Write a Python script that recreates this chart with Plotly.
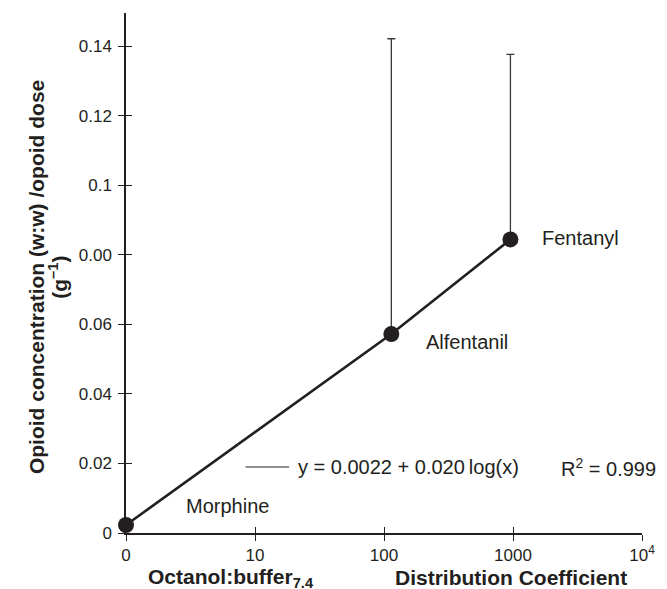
import math
import plotly.graph_objects as go

# Opioid partition data
drugs = ["Morphine", "Alfentanil", "Fentanyl"]
distribution_coef = [1, 114, 955]          # octanol:buffer (pH 7.4)
conc_per_dose = [0.0023, 0.0572, 0.0844]   # g^-1
err_upper = [0.0, 0.0849, 0.0532]

x_tickvals = [1, 10, 100, 1000, 10000]
x_ticktext = ["0", "10", "100", "1000", "10<sup>4</sup>"]
y_tickvals = [0, 0.02, 0.04, 0.06, 0.08, 0.1, 0.12, 0.14]
y_ticktext = ["0", "0.02", "0.04", "0.06", "0.00", "0.1", "0.12", "0.14"]

equation_text = "y = 0.0022 + 0.020\u2009log(x)"
r2_text = "R<sup>2</sup> = 0.999"

INK = "#231f20"
FONT = "Liberation Sans, Arial, Helvetica, sans-serif"

W, H = 667, 589
ML, MR, MT, MB = 126, 19, 13, 56
PW, PH = W - ML - MR, H - MT - MB


def px(xp):
    return (xp - ML) / PW


def py(yp):
    return (H - MB - yp) / PH


fig = go.Figure()

fig.add_trace(go.Scatter(
    x=distribution_coef, y=conc_per_dose,
    mode="lines+markers",
    line=dict(color=INK, width=2.6),
    marker=dict(color=INK, size=16),
    error_y=dict(type="data", symmetric=False, array=err_upper,
                 arrayminus=[0, 0, 0], color="#3a3a3a", thickness=1.3, width=4),
    cliponaxis=False,
    showlegend=False,
    hoverinfo="skip",
))

# invisible trace so the overlay axes (inner half of crossing ticks) are drawn
fig.add_trace(go.Scatter(x=[10], y=[0.05], xaxis="x2", yaxis="y2",
                         mode="markers", marker=dict(opacity=0),
                         showlegend=False, hoverinfo="skip"))

axis_common = dict(showgrid=False, zeroline=False, color=INK,
                   tickfont=dict(family=FONT, size=17, color=INK))

fig.update_layout(
    width=W, height=H,
    margin=dict(l=ML, r=MR, t=MT, b=MB),
    paper_bgcolor="white", plot_bgcolor="white",
    font=dict(family=FONT, size=18, color=INK),
    xaxis=dict(type="log", range=[0, 4], tickvals=x_tickvals, ticktext=x_ticktext,
               showline=True, linecolor=INK, linewidth=1.5,
               ticks="outside", ticklen=6, tickwidth=1.3, tickcolor=INK,
               **axis_common),
    yaxis=dict(range=[0, 0.1495], tickvals=y_tickvals, ticktext=y_ticktext,
               showline=True, linecolor=INK, linewidth=1.5,
               ticks="outside", ticklen=6, tickwidth=1.3, tickcolor=INK,
               ticklabelstandoff=3,
               **axis_common),
    xaxis2=dict(type="log", overlaying="x", matches="x", anchor="y",
                tickvals=x_tickvals, showticklabels=False, showline=False,
                ticks="inside", ticklen=6, tickwidth=1.3, tickcolor=INK,
                showgrid=False, zeroline=False),
    yaxis2=dict(overlaying="y", matches="y", anchor="x",
                tickvals=y_tickvals, showticklabels=False, showline=False,
                ticks="inside", ticklen=6, tickwidth=1.3, tickcolor=INK,
                showgrid=False, zeroline=False),
)

# point labels, offset from each marker in pixels
label_offsets = {"Morphine": (58, 19), "Alfentanil": (33, -8), "Fentanyl": (30, 1)}
for name, xv, yv in zip(drugs, distribution_coef, conc_per_dose):
    dx, dy = label_offsets[name]
    fig.add_annotation(x=math.log10(xv), y=yv, xref="x", yref="y",
                       text=name, showarrow=False, xanchor="left", yanchor="middle",
                       xshift=dx, yshift=dy, font=dict(size=20, color=INK))

# regression key
fig.add_shape(type="line", xref="paper", yref="paper",
              x0=px(247), x1=px(291), y0=py(467), y1=py(467),
              line=dict(color=INK, width=1.2))
fig.add_annotation(xref="paper", yref="paper", x=px(298), y=py(467),
                   text=equation_text, showarrow=False, xanchor="left",
                   yanchor="middle", font=dict(size=20, color=INK))
fig.add_annotation(xref="paper", yref="paper", x=px(564), y=py(467),
                   text=r2_text, showarrow=False, xanchor="left",
                   yanchor="middle", font=dict(size=20, color=INK))

# y-axis title, two lines
fig.add_annotation(xref="paper", yref="paper", x=px(35), y=py(277),
                   text="<b>Opioid concentration (w:w) /opoid dose</b>",
                   textangle=-90, showarrow=False, xanchor="center", yanchor="middle",
                   font=dict(size=21, color=INK))
fig.add_annotation(xref="paper", yref="paper", x=px(57), y=py(277),
                   text="<b>(g<sup>\u20131</sup>)</b>",
                   textangle=-90, showarrow=False, xanchor="center", yanchor="middle",
                   font=dict(size=21, color=INK))

# x-axis title
fig.add_annotation(xref="paper", yref="paper", x=px(146), y=py(578),
                   text="<b>Octanol:buffer<sub>7.4</sub></b>", showarrow=False,
                   xanchor="left", yanchor="middle", font=dict(size=21, color=INK))
fig.add_annotation(xref="paper", yref="paper", x=px(396), y=py(577),
                   text="<b>Distribution Coefficient</b>", showarrow=False,
                   xanchor="left", yanchor="middle", font=dict(size=21, color=INK))

fig.write_html("out.html")
